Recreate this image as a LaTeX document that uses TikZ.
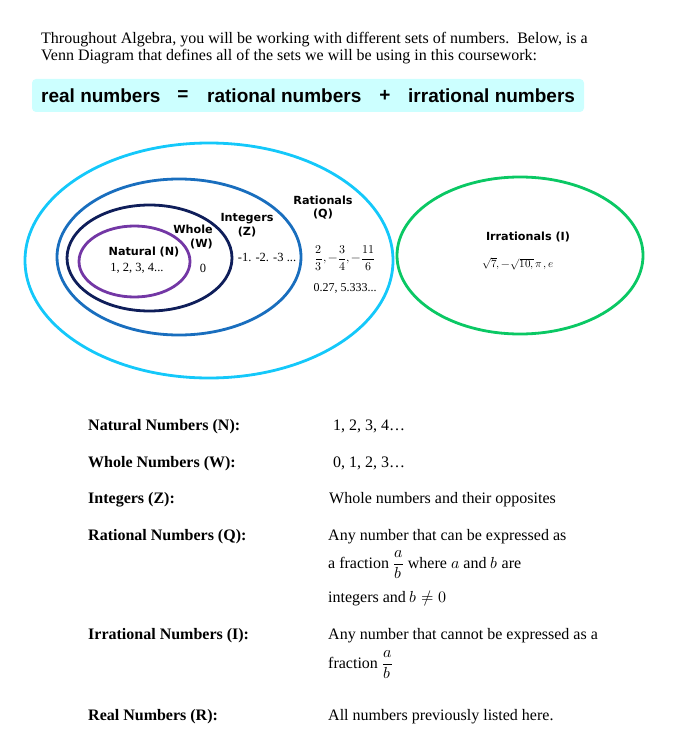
\documentclass[tikz,border=0pt]{standalone}
\usepackage{amsmath}
\usepackage{fontspec}
\usepackage{unicode-math}
\setmainfont{Liberation Serif}
\setmathfont{Latin Modern Math}
\newfontfamily\verd{DejaVu Sans}
\newfontfamily\arial{Liberation Sans}
\usepackage{tikz}
\usetikzlibrary{positioning, shapes.geometric}
\definecolor{realcol}{RGB}{20,200,250}
\definecolor{intcol}{RGB}{25,110,190}
\definecolor{wholecol}{RGB}{15,30,90}
\definecolor{natcol}{RGB}{115,55,165}
\definecolor{irrcol}{RGB}{10,200,100}
\definecolor{boxcol}{RGB}{204,255,255}

\begin{document}
\begin{tikzpicture}[x=1pt, y=-1pt, font=\fontsize{16}{19}\selectfont,
    set/.style={draw, ellipse, line width=2.8pt, inner sep=0pt},
    setname/.style={font=\verd\bfseries\fontsize{11.2}{13.5}\selectfont, align=center, inner sep=0pt},
    setnum/.style={font=\fontsize{12.5}{15}\selectfont, inner sep=0pt},
    eqword/.style={font=\arial\bfseries\fontsize{19}{22}\selectfont, inner sep=0pt},
    body/.style={anchor=base west, inner sep=0pt},
    term/.style={body, font=\bfseries\fontsize{16}{19}\selectfont}]
    \useasboundingbox (0,0) rectangle (675,746);

    % intro
    \node[body] (intro1) at (41,44) {Throughout Algebra, you will be working with different sets of numbers.\ \ Below, is a};
    \node[body] (intro2) at (41,61) {Venn Diagram that defines all of the sets we will be using in this coursework:};

    \node[fill=boxcol, rounded corners=4pt, minimum width=552, minimum height=33, inner sep=0pt] (eqbox) at (308,95.5) {};
    \node[eqword, anchor=west] (realw) at (41,95.5) {real numbers};
    \node[eqword] (eqsign) at (183,95.5) {=};
    \node[eqword, anchor=west] (ratw) at (207,95.5) {rational numbers};
    \node[eqword] (plus) at (385,95.5) {+};
    \node[eqword, anchor=west] (irrw) at (408,95.5) {irrational numbers};

    % venn diagram
    \node[set, draw=realcol, minimum width=368, minimum height=235] (real) at (209,260.5) {};
    \node[set, draw=intcol, minimum width=244, minimum height=156] (integers) at (179,257) {};
    \node[set, draw=wholecol, minimum width=165, minimum height=106] (whole) at (149.5,258) {};
    \node[set, draw=natcol, minimum width=111, minimum height=71] (natural) at (134.5,261.5) {};
    \node[set, draw=irrcol, minimum width=246, minimum height=157] (irrational) at (520,255.5) {};

    \node[setname] (natlbl) at (144,252) {Natural (N)};
    \node[setnum] (natnum) at (137,268) {1, 2, 3, 4...};
    \node[setname, align=right, anchor=east] (wholelbl) at (213,237) {Whole\\(W)};
    \node[setnum] (wholenum) at (203,268) {0};
    \node[setname] (intlbl) at (247,225) {Integers\\(Z)};
    \node[setnum] (intnum) at (267,257) {-1. -2. -3 ...};
    \node[setname] (ratlbl) at (323,207.5) {Rationals\\(Q)};
    \node[setnum, font=\fontsize{12}{14}\selectfont] (ratfrac) at (345,258) {$\displaystyle\frac{2}{3},-\frac{3}{4},-\frac{11}{6}$};
    \node[setnum, font=\fontsize{12}{14}\selectfont] (ratdec) at (345,288) {0.27, 5.333...};
    \node[setname] (irrlbl) at (528,237) {Irrationals (I)};
    \node[setnum, font=\fontsize{11}{13}\selectfont] (irrnum) at (518,264) {$\sqrt{7},-\sqrt{10,}\,\pi\,,e$};

    % definitions
    \node[term] (natterm) at (88,430) {Natural Numbers (N):};
    \node[body] (natdef) at (333,430) {1, 2, 3, 4…};
    \node[term] (wholeterm) at (88,467) {Whole Numbers (W):};
    \node[body] (wholedef) at (333,467) {0, 1, 2, 3…};
    \node[term] (intterm) at (88,503) {Integers (Z):};
    \node[body] (intdef) at (329,503) {Whole numbers and their opposites};
    \node[term] (ratterm) at (88,540) {Rational Numbers (Q):};
    \node[body] (ratdef1) at (328,540) {Any number that can be expressed as};
    \node[body] (ratdef2) at (328,568) {a fraction $\displaystyle\frac{a}{b}$ where $a$ and $b$ are};
    \node[body] (ratdef3) at (328,602) {integers and $b\neq0$};
    \node[term] (irrterm) at (88,639) {Irrational Numbers (I):};
    \node[body] (irrdef1) at (328,639) {Any number that cannot be expressed as a};
    \node[body] (irrdef2) at (328,668) {fraction $\displaystyle\frac{a}{b}$};
    \node[term] (realterm) at (88,720) {Real Numbers (R):};
    \node[body] (realdef) at (328,720) {All numbers previously listed here.};
\end{tikzpicture}
\end{document}
